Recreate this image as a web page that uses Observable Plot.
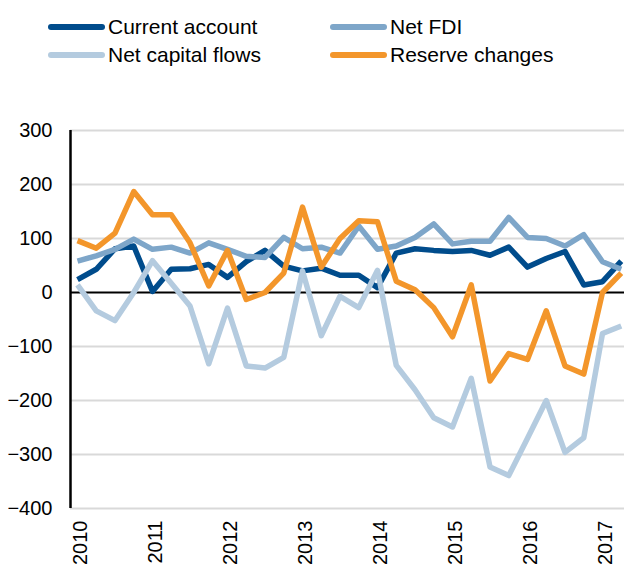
<!DOCTYPE html>
<html><head><meta charset="utf-8">
<script src="https://cdn.jsdelivr.net/npm/d3@7"></script>
<script src="https://cdn.jsdelivr.net/npm/@observablehq/plot@0.6"></script>
<style>
body{margin:0;background:#fff;font-family:"Liberation Sans",Arial,sans-serif;}
#wrap{position:relative;width:624px;height:572px;overflow:hidden;}
#legend{position:relative;height:100px;}
.item{position:absolute;display:flex;align-items:center;font-size:21px;color:#000;height:28px;white-space:nowrap;}
.sw{width:57px;height:6px;border-radius:3px;margin-right:3px;}
#chart svg{display:block;}
</style></head><body><div id="wrap"><div id="legend"></div><div id="chart"></div></div>
<script>
const quarters = ["2010Q1","2010Q2","2010Q3","2010Q4","2011Q1","2011Q2","2011Q3","2011Q4",
  "2012Q1","2012Q2","2012Q3","2012Q4","2013Q1","2013Q2","2013Q3","2013Q4",
  "2014Q1","2014Q2","2014Q3","2014Q4","2015Q1","2015Q2","2015Q3","2015Q4",
  "2016Q1","2016Q2","2016Q3","2016Q4","2017Q1","2017Q2"];
const currentAccount = [24,43,81,86,2,43,44,52,28,57,78,49,40,45,32,32,9,73,81,78,76,78,69,84,47,63,76,14,20,58];
const netFDI = [58,68,80,99,80,84,73,92,80,67,65,102,81,84,73,123,80,86,102,127,90,95,95,139,102,100,86,107,57,43];
const netCapitalFlows = [14,-34,-52,0,59,17,-25,-132,-29,-136,-140,-120,40,-80,-7,-28,41,-135,-180,-232,-249,-159,-323,-339,-270,-200,-296,-269,-76,-62];
const reserveChanges = [96,82,110,187,144,144,92,12,78,-13,0,36,158,47,100,133,131,21,5,-28,-82,14,-164,-113,-124,-34,-136,-151,0,36];
const seriesNames = ["Current account","Net FDI","Net capital flows","Reserve changes"];
const seriesColors = ["#004c8c","#7ea6c9","#b4cbdf","#f3962b"];
const yTicks = [-400,-300,-200,-100,0,100,200,300];
const yearTicks = [2010,2011,2012,2013,2014,2015,2016,2017];

const seriesValues = [currentAccount, netFDI, netCapitalFlows, reserveChanges];
const toT = q => +q.slice(0,4) + (+q.slice(5) - 1) / 4;

// legend
const legendPos = [[48,13],[330,13],[48,41],[330,41]];
const legend = document.getElementById("legend");
seriesNames.forEach((n,i) => {
  const d = document.createElement("div");
  d.className = "item";
  d.style.left = legendPos[i][0] + "px";
  d.style.top = legendPos[i][1] + "px";
  d.innerHTML = `<span class="sw" style="background:${seriesColors[i]}"></span><span>${n}</span>`;
  legend.appendChild(d);
});

const x0 = 2010 - 7/75;
const x1 = x0 + 554/75;

const lineMarks = seriesNames.map((n,i) => Plot.line(
  quarters.map((q,j) => ({t: toT(q), v: seriesValues[i][j]})),
  {x:"t", y:"v", stroke: seriesColors[i], strokeWidth:5.5, strokeLinejoin:"round", strokeLinecap:"butt"}
));

const chart = Plot.plot({
  width:624, height:472,
  marginLeft:70, marginRight:0, marginTop:30, marginBottom:64,
  x:{domain:[x0,x1]},
  y:{domain:[-400,300]},
  style:{fontFamily:'"Liberation Sans",Arial,sans-serif', fontSize:"20px", color:"#000", background:"#fff"},
  marks:[
    Plot.gridY(yTicks.filter(d => d !== 0), {stroke:"#d9d9d9", strokeOpacity:1, strokeWidth:2}),
    Plot.axisY({ticks:yTicks, tickSize:0, tickPadding:18, fontSize:20, label:null}),
    Plot.axisX({ticks:yearTicks, tickSize:0, tickRotate:-90, tickPadding:12, tickFormat:d => String(d), fontSize:20, label:null, dx:3}),
    Plot.ruleY([0], {stroke:"#000", strokeWidth:2}),
    ...lineMarks,
    Plot.ruleX([x0], {y1:-400, y2:300, stroke:"#000", strokeWidth:2.5})
  ]
});
document.getElementById("chart").appendChild(chart);
</script></body></html>
